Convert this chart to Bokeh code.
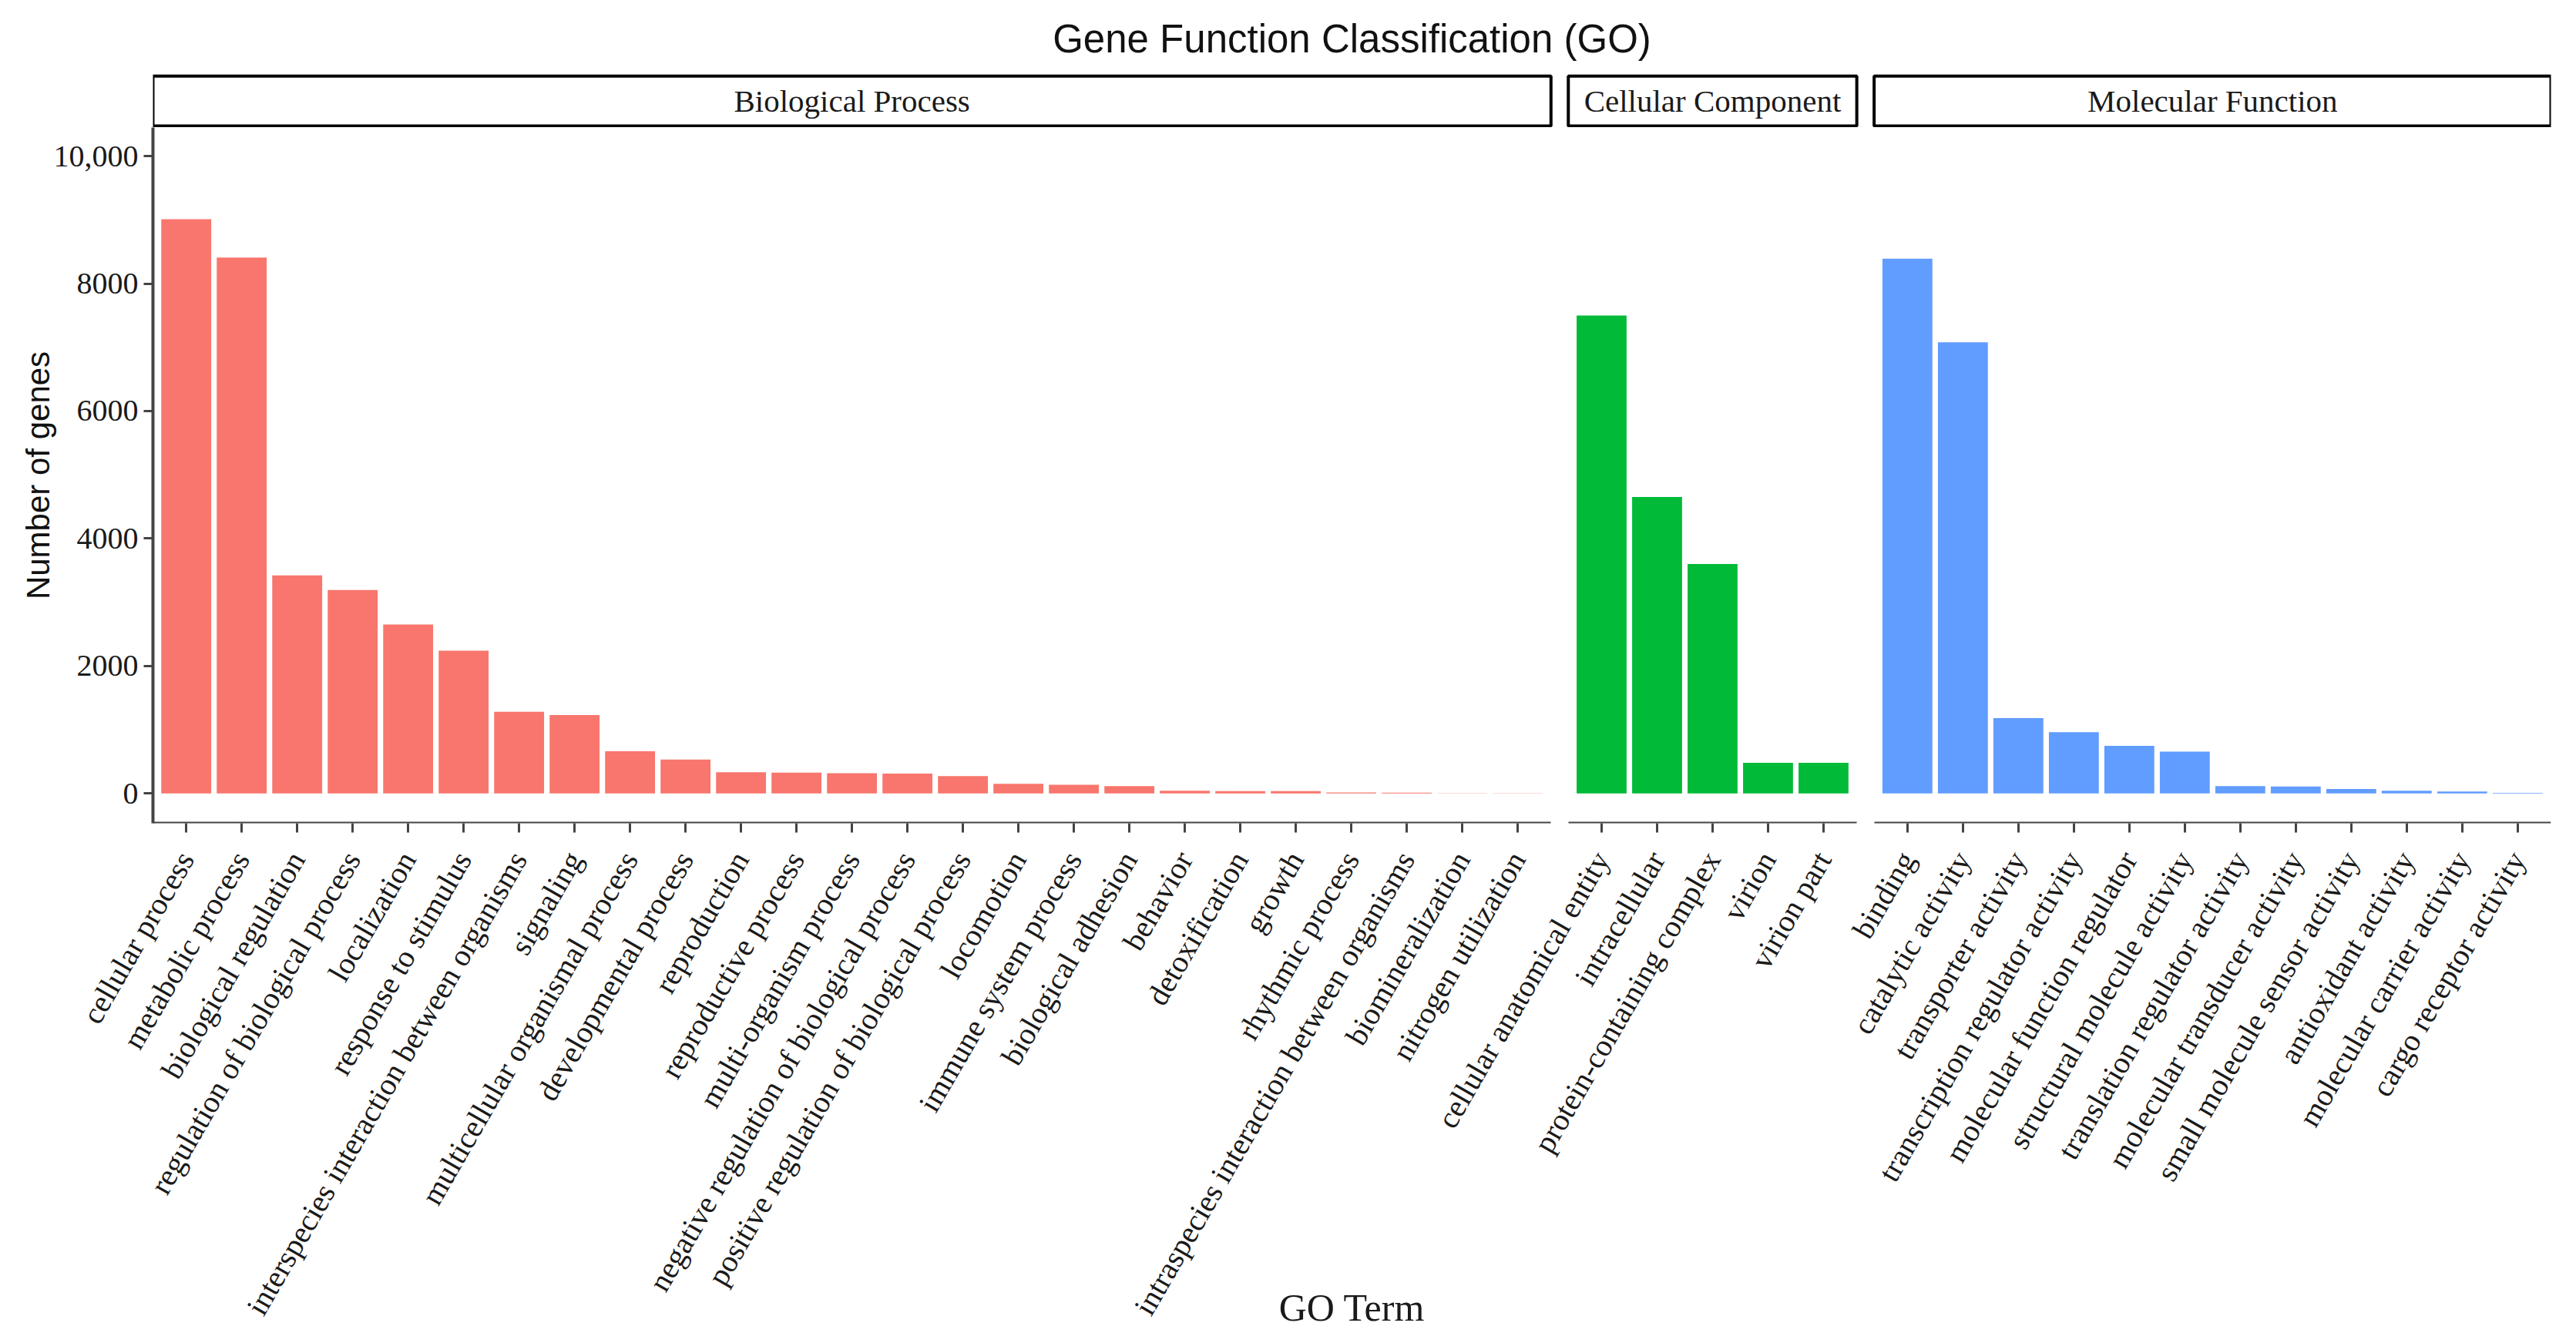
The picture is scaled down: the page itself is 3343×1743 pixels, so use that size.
import numpy as np
from bokeh.plotting import figure
from bokeh.models import Range1d, FixedTicker, LinearAxis, ColumnDataSource
from bokeh.layouts import column
from bokeh.embed import file_html
from bokeh.resources import INLINE
from bokeh.core.properties import value

# ---------------- data ----------------
chart_title = "Gene Function Classification (GO)"
facet_names = ["Biological Process", "Cellular Component", "Molecular Function"]
facet_colors = ["#F8766D", "#00BA38", "#619CFF"]

bp_terms = ["cellular process", "metabolic process", "biological regulation",
            "regulation of biological process", "localization", "response to stimulus",
            "interspecies interaction between organisms", "signaling",
            "multicellular organismal process", "developmental process", "reproduction",
            "reproductive process", "multi-organism process",
            "negative regulation of biological process",
            "positive regulation of biological process", "locomotion",
            "immune system process", "biological adhesion", "behavior", "detoxification",
            "growth", "rhythmic process", "intraspecies interaction between organisms",
            "biomineralization", "nitrogen utilization"]
bp_counts = [9010, 8410, 3420, 3190, 2650, 2240, 1280, 1230, 660, 530, 330,
             325, 315, 310, 270, 150, 135, 115, 40, 35, 35, 15, 12, 2, 1]

cc_terms = ["cellular anatomical entity", "intracellular", "protein-containing complex",
            "virion", "virion part"]
cc_counts = [7500, 4650, 3600, 480, 480]

mf_terms = ["binding", "catalytic activity", "transporter activity",
            "transcription regulator activity", "molecular function regulator",
            "structural molecule activity", "translation regulator activity",
            "molecular transducer activity", "small molecule sensor activity",
            "antioxidant activity", "molecular carrier activity", "cargo receptor activity"]
mf_counts = [8390, 7080, 1180, 960, 745, 655, 113, 108, 68, 40, 28, 8]

y_ticks = [0, 2000, 4000, 6000, 8000, 10000]
y_tick_labels = ["0", "2000", "4000", "6000", "8000", "10,000"]
y_title = "Number of genes"
x_title = "GO Term"

# ---------------- layout constants ----------------
EDGE = 0.6      # space between panel edge and outer bar centre (in bar slots)
GAP = 0.3125    # space between facet panels (in bar slots)
BAR_W = 0.9
Y_LO, Y_HI = -470, 10450
SERIF = "Liberation Serif"
SANS = "Liberation Sans"
AXIS_COL = "#444444"
TXT_COL = "#1a1a1a"
LEFT_B = 198
RIGHT_B = 25

groups = [(bp_terms, bp_counts), (cc_terms, cc_counts), (mf_terms, mf_counts)]
xs, tops, fills, names = [], [], [], []
panel_l, panel_r, panel_c = [], [], []
left = -EDGE
for (terms, counts), col in zip(groups, facet_colors):
    pos = [left + EDGE + i for i in range(len(terms))]
    right = pos[-1] + EDGE
    panel_l.append(left); panel_r.append(right); panel_c.append((left + right) / 2)
    xs += pos; tops += counts; fills += [col] * len(terms); names += terms
    left = right + GAP

xr = Range1d(panel_l[0], panel_r[-1])
FRAME_W = 3112

# ---------------- strip + title figure ----------------
s = figure(x_range=xr, y_range=Range1d(-0.03, 1.05), frame_width=FRAME_W, frame_height=70,
           min_border_left=LEFT_B, min_border_right=RIGHT_B, min_border_bottom=0,
           min_border_top=95, x_axis_type=None, y_axis_type=None, output_backend="svg",
           toolbar_location=None, title=chart_title)
s.outline_line_color = None
s.xgrid.visible = False
s.ygrid.visible = False
s.title.align = "center"
s.title.text_font = SANS
s.title.text_font_size = "51px"
s.title.text_font_style = "normal"
s.title.text_color = "#111111"
s.title.standoff = 34
strip_src = ColumnDataSource(dict(l=panel_l, r=panel_r, c=panel_c, name=facet_names))
s.quad(left="l", right="r", bottom=0, top=1, source=strip_src,
       fill_color="white", line_color="black", line_width=4)
s.text(x="c", y=0.5, text="name", source=strip_src, text_font=value(SERIF),
       text_font_size="41px", text_align="center", text_baseline="middle", text_color=TXT_COL)

# ---------------- panel figure ----------------
p = figure(x_range=xr, y_range=Range1d(Y_LO, Y_HI), frame_width=FRAME_W, frame_height=903,
           min_border_left=LEFT_B, min_border_right=RIGHT_B, min_border_top=0,
           min_border_bottom=0, output_backend="svg", toolbar_location=None)
p.outline_line_color = None
p.xgrid.visible = False
p.ygrid.visible = False

src = ColumnDataSource(dict(x=xs, top=tops, fill=fills, name=names))
p.vbar(x="x", top="top", bottom=0, width=BAR_W, source=src, fill_color="fill", line_color=None)

xa = p.xaxis[0]
xa.ticker = FixedTicker(ticks=xs)
xa.major_label_overrides = {x: n for x, n in zip(xs, names)}
xa.axis_line_color = None
xa.major_tick_out = 12
xa.major_tick_in = 0
xa.major_tick_line_width = 3
xa.major_tick_line_color = AXIS_COL
xa.minor_tick_line_color = None
xa.major_label_orientation = np.pi / 3
xa.major_label_text_font = SERIF
xa.major_label_text_font_size = "40px"
xa.major_label_text_color = TXT_COL
xa.major_label_standoff = 28
xa.axis_label = x_title
xa.axis_label_text_font = SERIF
xa.axis_label_text_font_size = "50px"
xa.axis_label_text_font_style = "normal"
xa.axis_label_text_color = TXT_COL
xa.axis_label_standoff = -60

for l, r in zip(panel_l, panel_r):
    ax = LinearAxis(fixed_location=Y_LO, bounds=(l, r), ticker=FixedTicker(ticks=[]),
                    major_label_text_font_size="0px", axis_line_width=4,
                    axis_line_color=AXIS_COL, major_tick_line_color=None,
                    minor_tick_line_color=None)
    p.add_layout(ax, "below")

ya = p.yaxis[0]
ya.ticker = FixedTicker(ticks=y_ticks)
ya.major_label_overrides = dict(zip(y_ticks, y_tick_labels))
ya.axis_line_width = 4
ya.axis_line_color = AXIS_COL
ya.major_tick_out = 12
ya.major_tick_in = 0
ya.major_tick_line_width = 3
ya.major_tick_line_color = AXIS_COL
ya.minor_tick_line_color = None
ya.major_label_text_font = SERIF
ya.major_label_text_font_size = "40px"
ya.major_label_text_color = TXT_COL
ya.major_label_standoff = 7
ya.axis_label = y_title
ya.axis_label_text_font = SANS
ya.axis_label_text_font_size = "42px"
ya.axis_label_text_font_style = "normal"
ya.axis_label_text_color = "#111111"
ya.axis_label_standoff = -6

layout = column(s, p, spacing=0)
open("out.html", "w").write(file_html(layout, INLINE))
